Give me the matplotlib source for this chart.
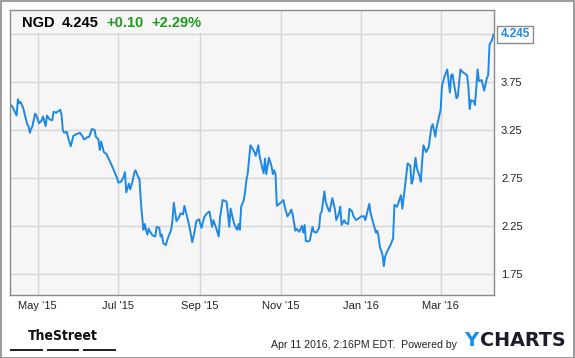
import matplotlib
matplotlib.use('Agg')
import matplotlib.pyplot as plt
import matplotlib.patches as mpatches
import numpy as np
import pandas as pd

# NGD daily close (days counted from the first point)
start_date = '2015-04-10'
day = [0, 2, 5, 6, 7, 8, 10, 11, 13, 14, 15, 16, 17, 19, 20, 22, 24, 25, 27, 28,
       30, 32, 33, 35, 36, 38, 39, 40, 41, 43, 44, 46, 48, 51, 53, 55, 56, 58, 60, 62,
       64, 65, 67, 68, 69, 71, 73, 74, 75, 78, 81, 82, 84, 86, 87, 88, 90, 91, 93, 94,
       95, 97, 98, 99, 100, 101, 102, 103, 104, 105, 106, 107, 108, 110, 111, 113, 114, 115, 116, 118,
       119, 120, 122, 123, 124, 126, 128, 129, 131, 132, 134, 136, 138, 140, 141, 143, 145, 147, 149, 151,
       153, 154, 156, 158, 159, 161, 163, 164, 166, 167, 169, 170, 172, 173, 174, 175, 177, 178, 179, 180,
       182, 183, 185, 186, 188, 189, 192, 193, 194, 196, 198, 199, 200, 201, 202, 204, 207, 208, 210, 212,
       213, 214, 216, 217, 219, 221, 222, 223, 224, 226, 227, 229, 230, 232, 234, 235, 236, 238, 239, 241,
       242, 244, 246, 247, 249, 250, 251, 253, 254, 256, 257, 259, 260, 262, 264, 266, 268, 269, 272, 273,
       275, 277, 278, 279, 280, 282, 283, 284, 285, 288, 290, 291, 293, 294, 296, 297, 299, 301, 303, 304,
       305, 307, 308, 310, 311, 312, 313, 315, 317, 319, 320, 322, 323, 325, 326, 327, 329, 331, 333, 334,
       335, 336, 338, 339, 341, 342, 344, 346, 347, 348, 349, 351, 352, 354, 355, 357, 358, 359, 361, 362,
       363, 365, 366]
price = [3.52, 3.49, 3.40, 3.57, 3.53, 3.54, 3.48, 3.42, 3.31, 3.29, 3.22, 3.26, 3.29, 3.42, 3.40, 3.32, 3.35, 3.39, 3.29, 3.40,
         3.36, 3.35, 3.44, 3.43, 3.44, 3.46, 3.41, 3.25, 3.22, 3.23, 3.17, 3.08, 3.19, 3.21, 3.22, 3.18, 3.15, 3.17, 3.18, 3.26,
         3.25, 3.18, 3.15, 3.04, 3.13, 3.02, 3.00, 2.97, 2.94, 2.85, 2.75, 2.70, 2.71, 2.76, 2.81, 2.60, 2.69, 2.63, 2.73, 2.80,
         2.83, 2.76, 2.74, 2.52, 2.35, 2.21, 2.27, 2.21, 2.16, 2.22, 2.19, 2.17, 2.15, 2.14, 2.24, 2.23, 2.14, 2.16, 2.07, 2.05,
         2.10, 2.14, 2.21, 2.31, 2.49, 2.30, 2.34, 2.38, 2.37, 2.46, 2.35, 2.23, 2.08, 2.21, 2.30, 2.32, 2.23, 2.34, 2.38, 2.40,
         2.24, 2.31, 2.23, 2.14, 2.34, 2.52, 2.51, 2.50, 2.24, 2.43, 2.31, 2.26, 2.21, 2.27, 2.21, 2.45, 2.52, 2.61, 2.73, 2.80,
         3.09, 3.07, 3.02, 2.98, 3.09, 2.97, 2.80, 2.95, 2.79, 2.96, 2.87, 2.79, 2.83, 2.79, 2.46, 2.48, 2.52, 2.45, 2.35, 2.39,
         2.42, 2.37, 2.20, 2.22, 2.19, 2.25, 2.18, 2.26, 2.09, 2.09, 2.10, 2.24, 2.19, 2.18, 2.23, 2.38, 2.40, 2.61, 2.50, 2.42,
         2.40, 2.54, 2.42, 2.31, 2.38, 2.45, 2.26, 2.31, 2.28, 2.27, 2.43, 2.40, 2.35, 2.31, 2.33, 2.35, 2.35, 2.31, 2.48, 2.38,
         2.28, 2.18, 2.20, 2.14, 2.03, 1.95, 1.83, 1.93, 1.97, 2.05, 2.12, 2.47, 2.45, 2.49, 2.57, 2.43, 2.66, 2.90, 2.88, 2.69,
         2.73, 2.96, 2.85, 2.77, 2.71, 2.92, 3.09, 3.02, 3.07, 3.28, 3.31, 3.18, 3.28, 3.40, 3.46, 3.71, 3.81, 3.88, 3.64, 3.82,
         3.83, 3.74, 3.58, 3.60, 3.88, 3.86, 3.84, 3.82, 3.70, 3.47, 3.56, 3.55, 3.51, 3.88, 3.76, 3.77, 3.72, 3.66, 3.79, 3.82,
         4.14, 4.19, 4.245]

y_ticks = [1.75, 2.25, 2.75, 3.25, 3.75, 4.25]
x_ticks = ['2015-05-01', '2015-07-01', '2015-09-01', '2015-11-01', '2016-01-01', '2016-03-01']
x_labels = ["May '15", "Jul '15", "Sep '15", "Nov '15", "Jan '16", "Mar '16"]

dates = pd.Timestamp(start_date) + pd.to_timedelta(day, unit='D')

blue = '#1e88e5'
green = '#1f9a1f'
W, H = 575, 358
plt.rcParams['font.family'] = ['Liberation Sans', 'DejaVu Sans']

fig = plt.figure(figsize=(W / 100, H / 100), dpi=100)
fig.patch.set_facecolor('white')
ax = fig.add_axes([10 / W, (H - 295) / H, 484 / W, 285 / H])
ax.set_facecolor('#f6f6f6')

ax.plot(dates, price, color=blue, lw=1.4, solid_joinstyle='round')

ax.set_xlim(pd.Timestamp(start_date), pd.Timestamp(start_date) + pd.Timedelta(days=366.4))
ax.set_ylim(1.53, 4.5)

ax.set_yticks(y_ticks)
ax.set_yticklabels([f'{v:.2f}' if v < 4 else '' for v in y_ticks])
ax.yaxis.tick_right()
ax.set_xticks(pd.to_datetime(x_ticks))
ax.set_xticklabels(x_labels)
ax.tick_params(length=0, labelsize=8, colors='#222222')
ax.tick_params(axis='y', pad=5)
ax.tick_params(axis='x', pad=4)
ax.grid(True, color='#d6d6d6', lw=1)
ax.set_axisbelow(True)
for s in ax.spines.values():
    s.set_color('#8a8a8a')
    s.set_linewidth(1)

# header band covering the grid
ax.add_patch(mpatches.Rectangle((0, (295 - 33) / 285), 200 / 484, 23 / 285, transform=ax.transAxes,
                                facecolor='#f6f6f6', edgecolor='none', zorder=1.5))
hy = 1 - 23 / H
fig.text(22 / W, hy, 'NGD', fontsize=10.5, fontweight='bold', va='center', color='black')
fig.text(62 / W, hy, '4.245', fontsize=10.5, fontweight='bold', va='center', color='black')
fig.text(106 / W, hy, '+0.10', fontsize=10.5, fontweight='bold', va='center', color=green)
fig.text(151 / W, hy, '+2.29%', fontsize=10.5, fontweight='bold', va='center', color=green)

# last value tag
ax.annotate('4.245', xy=(dates[-1], price[-1]), xytext=(5, 0), textcoords='offset points',
            ha='left', va='center', fontsize=8.5, fontweight='bold', color=blue,
            bbox=dict(boxstyle='square,pad=0.25', fc='white', ec='#8a8a8a', lw=1),
            annotation_clip=False, zorder=5)

# footer
fig.text(63 / W, 1 - 336 / H, 'TheStreet', fontsize=10, fontweight='bold', ha='center', va='center',
         family='DejaVu Sans', fontstretch='condensed', color='#111111')
for x0, x1 in [(10, 43), (47, 79), (83, 116)]:
    fig.patches.append(mpatches.Rectangle((x0 / W, 1 - 351 / H), (x1 - x0) / W, 2.5 / H,
                                          transform=fig.transFigure, facecolor='#222222', edgecolor='none'))
fig.text(271 / W, 1 - 345 / H, 'Apr 11 2016, 2:16PM EDT.  Powered by', fontsize=7.6, va='center', color='#222222')
fig.text(464 / W, 1 - 341 / H, 'Y', fontsize=14, fontweight='bold', va='center', color='#1a8fe3',
         family='DejaVu Sans')
fig.text(480 / W, 1 - 341 / H, 'CHARTS', fontsize=13.8, fontweight='bold', va='center', color='#1c1c2a',
         family='DejaVu Sans')

# outer border
fig.patches.append(mpatches.Rectangle((0.5 / W, 0.5 / H), (W - 1.5) / W, (H - 1.5) / H, transform=fig.transFigure,
                                      facecolor='none', edgecolor='#8a8a8a', lw=1.2))

fig.savefig('out.png', dpi=100)
